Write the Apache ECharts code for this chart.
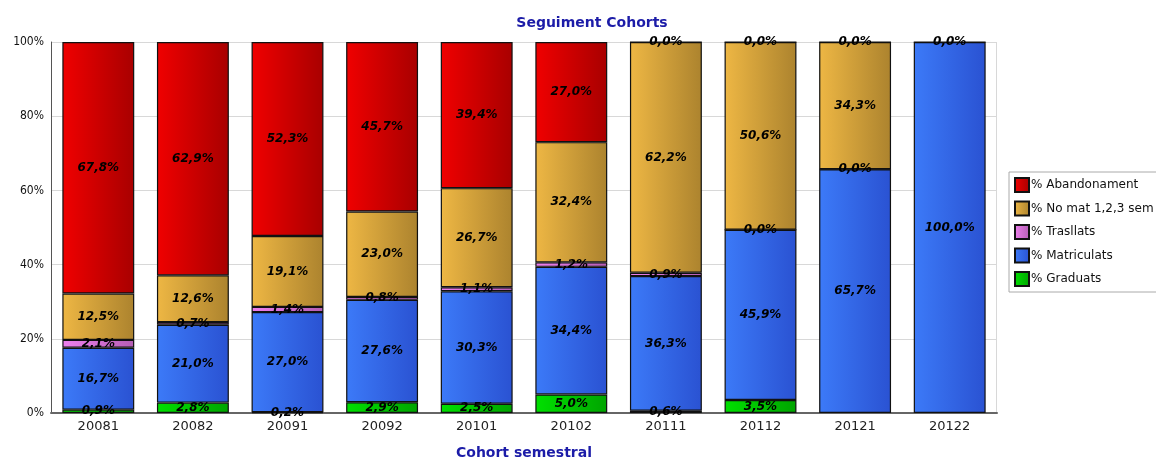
<!DOCTYPE html>
<html>
<head>
<meta charset="utf-8">
<script src="https://cdn.jsdelivr.net/npm/echarts@6/dist/echarts.min.js"></script>
<style>
html,body{margin:0;padding:0;background:#fff;}
#chart{width:1156px;height:460px;}
</style>
</head>
<body>
<div id="chart"></div>
<script>
const categories = ['20081','20082','20091','20092','20101','20102','20111','20112','20121','20122'];
const graduats     = [0.9, 2.8, 0.2, 2.9, 2.5, 5.0, 0.6, 3.5, null, null];
const matriculats  = [16.7, 21.0, 27.0, 27.6, 30.3, 34.4, 36.3, 45.9, 65.7, 100.0];
const trasllats    = [2.1, 0.7, 1.4, 0.8, 1.1, 1.2, 0.9, 0.0, 0.0, null];
const noMat        = [12.5, 12.6, 19.1, 23.0, 26.7, 32.4, 62.2, 50.6, 34.3, null];
const abandonament = [67.8, 62.9, 52.3, 45.7, 39.4, 27.0, 0.0, 0.0, 0.0, 0.0];
const yTicks = [0, 20, 40, 60, 80, 100];

function grad(a, b) {
  return new echarts.graphic.LinearGradient(0, 0, 1, 0, [
    {offset: 0, color: a}, {offset: 1, color: b}
  ]);
}
function mk(name, data, c1, c2) {
  return {
    name: name, type: 'bar', stack: 'total', data: data,
    barWidth: '76%',
    itemStyle: {color: grad(c1, c2), borderColor: '#111', borderWidth: 1.2},
    label: {
      show: true, position: 'inside', color: '#000',
      fontFamily: 'DejaVu Sans', fontWeight: 'bold', fontStyle: 'italic', fontSize: 12,
      formatter: p => p.value == null ? '' : p.value.toFixed(1).replace('.', ',') + '%'
    },
    emphasis: {disabled: true}
  };
}
const chart = echarts.init(document.getElementById('chart'));
chart.setOption({
  animation: false,
  backgroundColor: '#fff',
  title: {
    text: 'Seguiment Cohorts', left: 587, top: 11, textAlign: 'center',
    textStyle: {color: '#1c1ca8', fontSize: 14, fontWeight: 'bold', fontFamily: 'DejaVu Sans'}
  },
  legend: {
    orient: 'vertical', left: 1009, top: 172,
    data: ['% Abandonament', '% No mat 1,2,3 sem', '% Trasllats', '% Matriculats', '% Graduats'],
    itemWidth: 14, itemHeight: 14, itemGap: 7.5,
    padding: [5, 8, 5, 5],
    borderColor: '#aaa', borderWidth: 1,
    icon: 'rect',
    textStyle: {fontFamily: 'DejaVu Sans', fontSize: 12, color: '#111', padding: [0, 0, 0, -3]}
  },
  grid: {left: 51, right: 159, top: 42, bottom: 47, outerBoundsMode: 'none', containLabel: false},
  xAxis: {
    type: 'category', data: categories,
    name: 'Cohort semestral', nameLocation: 'middle', nameGap: 33,
    nameTextStyle: {color: '#1c1ca8', fontSize: 14, fontWeight: 'bold', fontFamily: 'DejaVu Sans'},
    axisLine: {lineStyle: {color: '#666', width: 2}},
    axisTick: {show: false},
    axisLabel: {color: '#222', fontSize: 13, fontFamily: 'DejaVu Sans', margin: 7}
  },
  yAxis: {
    type: 'value', min: yTicks[0], max: yTicks[yTicks.length - 1], interval: 20,
    axisLine: {show: true, lineStyle: {color: '#555', width: 1}},
    axisTick: {show: false},
    splitLine: {lineStyle: {color: '#d8d8d8', width: 1}},
    axisLabel: {color: '#111', fontSize: 12, fontFamily: 'DejaVu Sans Condensed', formatter: '{value}%', margin: 7}
  },
  series: [
    mk('% Graduats', graduats, '#00e000', '#00a400'),
    mk('% Matriculats', matriculats, '#3c7af8', '#2a52d2'),
    mk('% Trasllats', trasllats, '#ee80ee', '#b45eb4'),
    mk('% No mat 1,2,3 sem', noMat, '#eeb744', '#ac832e'),
    mk('% Abandonament', abandonament, '#f00000', '#a80000')
  ],
  graphic: [{
    type: 'line', shape: {x1: 996.5, y1: 42, x2: 996.5, y2: 413},
    style: {stroke: '#d8d8d8', lineWidth: 1}, silent: true
  }]
});
</script>
</body>
</html>
